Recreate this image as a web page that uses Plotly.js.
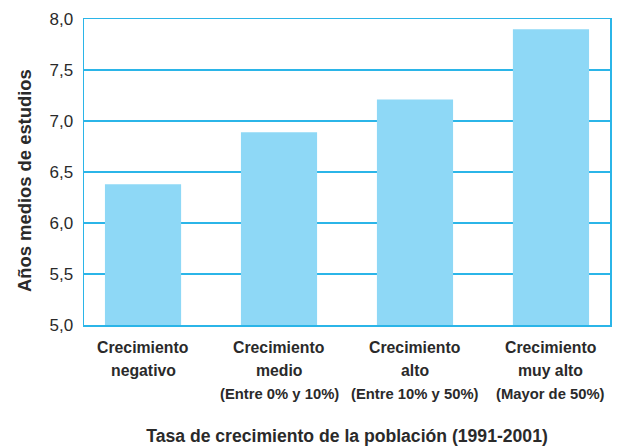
<!DOCTYPE html>
<html>
<head>
<meta charset="utf-8">
<script src="https://cdn.plot.ly/plotly-3.0.1.min.js"></script>
<style>html,body{margin:0;padding:0;background:#fff;}#chart{width:617px;height:448px;}</style>
</head>
<body>
<div id="chart"></div>
<script>
var categories = ["negativo", "medio", "alto", "muy alto"];
var labelLine1 = ["Crecimiento", "Crecimiento", "Crecimiento", "Crecimiento"];
var labelLine2 = ["negativo", "medio", "alto", "muy alto"];
var labelLine3 = ["", "(Entre 0% y 10%)", "(Entre 10% y 50%)", "(Mayor de 50%)"];
var values = [6.38, 6.89, 7.21, 7.90];
var yTicks = [5.0, 5.5, 6.0, 6.5, 7.0, 7.5, 8.0];
var yTickText = ["5,0", "5,5", "6,0", "6,5", "7,0", "7,5", "8,0"];
var yTitle = "Años medios de estudios";
var xTitle = "Tasa de crecimiento de la población (1991-2001)";

var blue = "#2bb5e8";
var text = "#2a2a2a";

var trace = {
  type: "bar",
  x: categories.map(function (c, i) { return i; }),
  y: values,
  width: 0.56,
  marker: { color: "#8ed8f6", line: { width: 0 } },
  hoverinfo: "skip"
};

var annotations = [];
var lines = [labelLine1, labelLine2, labelLine3];
var shifts = [-22, -45.5, -68.5];
var sizes = [15.8, 15.8, 14.8];
lines.forEach(function (arr, li) {
  arr.forEach(function (s, i) {
    if (!s) return;
    annotations.push({
      xref: "x", x: i, yref: "paper", y: 0,
      xanchor: "center", yanchor: "middle", yshift: shifts[li],
      showarrow: false,
      text: "<b>" + s + "</b>",
      font: { family: "Liberation Sans, Arial", size: sizes[li], color: text }
    });
  });
});
annotations.push({
  xref: "paper", x: 0, xshift: -60, yref: "paper", y: 0.5, yshift: -9,
  xanchor: "center", yanchor: "middle", textangle: -90, showarrow: false,
  text: "<b>" + yTitle + "</b>",
  font: { family: "Liberation Sans, Arial", size: 18.4, color: text }
});

var layout = {
  width: 617, height: 448,
  margin: { l: 84, r: 7, t: 19, b: 123 },
  paper_bgcolor: "#ffffff",
  plot_bgcolor: "#ffffff",
  showlegend: false,
  annotations: annotations,
  xaxis: {
    range: [-0.434, 3.434],
    tickvals: [0, 1, 2, 3],
    showticklabels: false,
    ticks: "",
    showgrid: false,
    zeroline: false,
    showline: true, linecolor: blue, linewidth: 1.5, mirror: true,
    automargin: false,
    title: {
      text: "<b>" + xTitle + "</b>",
      font: { family: "Liberation Sans, Arial", size: 17.6, color: text },
      standoff: 104
    }
  },
  yaxis: {
    range: [5, 8],
    tickmode: "array",
    tickvals: yTicks,
    ticktext: yTickText,
    tickfont: { family: "Liberation Sans, Arial", size: 17, color: text },
    ticks: "",
    ticklabelstandoff: 6,
    showgrid: true, gridcolor: blue, gridwidth: 1.5,
    zeroline: false,
    showline: true, linecolor: blue, linewidth: 1.5, mirror: true,
    automargin: false
  }
};

Plotly.newPlot("chart", [trace], layout, { staticPlot: true, displayModeBar: false });
</script>
</body>
</html>
